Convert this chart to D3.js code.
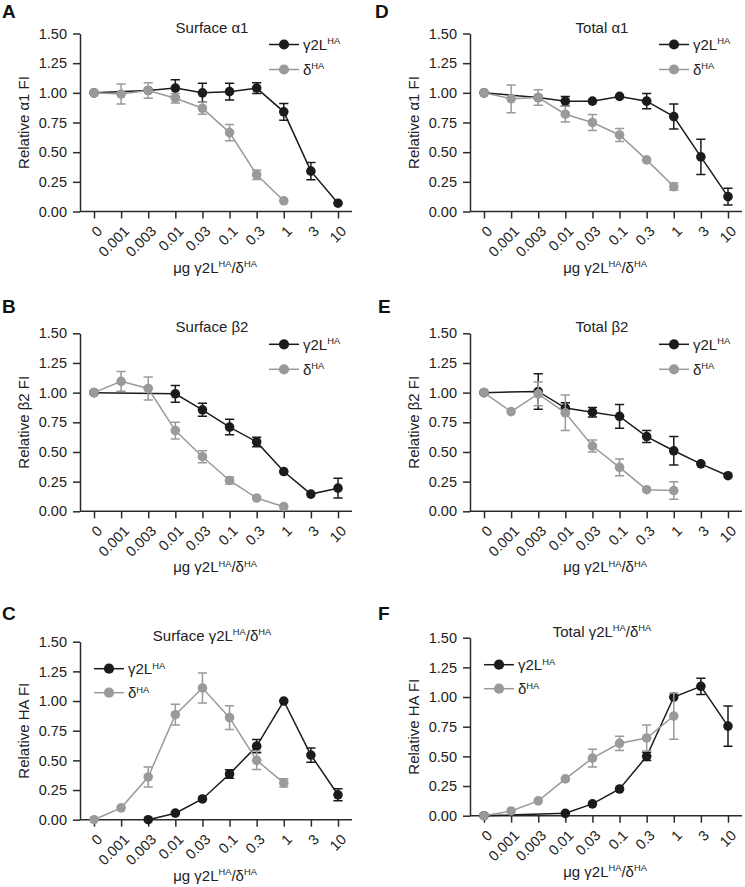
<!DOCTYPE html>
<html>
<head>
<meta charset="utf-8">
<script src="https://cdn.jsdelivr.net/npm/d3@7"></script>
<style>
  html, body { margin: 0; padding: 0; background: #fff; }
  svg { display: block; font-family: "Liberation Sans", Arial, sans-serif; }
</style>
</head>
<body>
<svg id="chart" width="745" height="887"></svg>
<script>
// ---------- data ----------
const categories = ["0", "0.001", "0.003", "0.01", "0.03", "0.1", "0.3", "1", "3", "10"];
const yTicks = [0, 0.25, 0.5, 0.75, 1.0, 1.25, 1.5];
const seriesNames = ["γ2L", "δ"];

// Panel A – Surface α1
const aGamma    = [1.00, null, 1.02, 1.04, 1.00, 1.01, 1.04, 0.84, 0.34, 0.07];
const aGammaErr = [0, null, 0, 0.07, 0.08, 0.07, 0.045, 0.07, 0.073, 0];
const aDelta    = [1.00, 0.99, 1.02, 0.955, 0.87, 0.665, 0.31, 0.09, null, null];
const aDeltaErr = [0, 0.085, 0.065, 0.04, 0.05, 0.068, 0.04, 0, null, null];

// Panel B – Surface β2
const bGamma    = [1.00, null, null, 0.99, 0.855, 0.71, 0.585, 0.335, 0.145, 0.195];
const bGammaErr = [0, null, null, 0.07, 0.055, 0.065, 0.04, 0, 0, 0.083];
const bDelta    = [1.00, 1.095, 1.035, 0.68, 0.46, 0.26, 0.112, 0.039, null, null];
const bDeltaErr = [0, 0.084, 0.097, 0.07, 0.05, 0.03, 0, 0, null, null];

// Panel C – Surface γ2L/δ
const cGamma    = [null, null, 0.00, 0.055, 0.175, 0.385, 0.62, 1.00, 0.545, 0.21];
const cGammaErr = [null, null, 0, 0, 0, 0.035, 0.056, 0, 0.06, 0.05];
const cDelta    = [0.00, 0.10, 0.36, 0.885, 1.11, 0.86, 0.50, 0.31, null, null];
const cDeltaErr = [0, 0, 0.085, 0.087, 0.126, 0.10, 0.078, 0.035, null, null];

// Panel D – Total α1
const dGamma    = [1.00, null, 0.96, 0.93, 0.93, 0.97, 0.93, 0.80, 0.46, 0.125];
const dGammaErr = [0, null, 0, 0.04, 0, 0, 0.065, 0.105, 0.148, 0.07];
const dDelta    = [1.00, 0.95, 0.96, 0.82, 0.75, 0.645, 0.435, 0.21, null, null];
const dDeltaErr = [0, 0.117, 0.065, 0.066, 0.068, 0.055, 0, 0.03, null, null];

// Panel E – Total β2
const eGamma    = [1.00, null, 1.01, 0.87, 0.835, 0.80, 0.63, 0.51, 0.40, 0.30];
const eGammaErr = [0, null, 0.15, 0.045, 0.04, 0.10, 0.05, 0.12, 0, 0];
const eDelta    = [1.00, 0.84, 0.99, 0.83, 0.55, 0.37, 0.182, 0.175, null, null];
const eDeltaErr = [0, 0, 0.10, 0.15, 0.05, 0.07, 0, 0.073, null, null];

// Panel F – Total γ2L/δ
const fGamma    = [0.00, null, null, 0.02, 0.10, 0.225, 0.50, 1.00, 1.09, 0.755];
const fGammaErr = [0, null, null, 0, 0, 0, 0.035, 0, 0.068, 0.17];
const fDelta    = [0.00, 0.04, 0.125, 0.31, 0.485, 0.61, 0.655, 0.84, null, null];
const fDeltaErr = [0, 0, 0, 0, 0.075, 0.06, 0.11, 0.195, null, null];

// ---------- layout ----------
const panels = [
  {label: "A", title: [["Surface α1", false]], yTitle: "Relative α1 FI", left: 80, top: 33.5, labelX: 2, labelY: 18,
   gamma: aGamma, gammaErr: aGammaErr, delta: aDelta, deltaErr: aDeltaErr, legend: "right"},
  {label: "B", title: [["Surface β2", false]], yTitle: "Relative β2 FI", left: 80, top: 333.3, labelX: 2, labelY: 313,
   gamma: bGamma, gammaErr: bGammaErr, delta: bDelta, deltaErr: bDeltaErr, legend: "right"},
  {label: "C", title: [["Surface γ2L", false], ["HA", true], ["/δ", false], ["HA", true]], yTitle: "Relative HA FI", left: 80, top: 641.7, labelX: 2, labelY: 620,
   gamma: cGamma, gammaErr: cGammaErr, delta: cDelta, deltaErr: cDeltaErr, legend: "left"},
  {label: "D", title: [["Total α1", false]], yTitle: "Relative α1 FI", left: 470, top: 33.5, labelX: 375, labelY: 18,
   gamma: dGamma, gammaErr: dGammaErr, delta: dDelta, deltaErr: dDeltaErr, legend: "right"},
  {label: "E", title: [["Total β2", false]], yTitle: "Relative β2 FI", left: 470, top: 333.3, labelX: 378, labelY: 313,
   gamma: eGamma, gammaErr: eGammaErr, delta: eDelta, deltaErr: eDeltaErr, legend: "right"},
  {label: "F", title: [["Total γ2L", false], ["HA", true], ["/δ", false], ["HA", true]], yTitle: "Relative HA FI", left: 470, top: 637.7, labelX: 378, labelY: 620,
   gamma: fGamma, gammaErr: fGammaErr, delta: fDelta, deltaErr: fDeltaErr, legend: "left"}
];

const H = 178, W = 272;
const BLACK = "#1b1b1b", GRAY = "#9a9a9a", AXIS = "#2b2b2b", TEXT = "#222";
const R = 4.8, CAP = 4.6;
const FS = 15, TICK_FS = 14.5;

const svg = d3.select("#chart");

function richText(sel, parts, size) {
  parts.forEach(([t, sup], i) => {
    const prevSup = i > 0 && parts[i - 1][1];
    const ts = sel.append("tspan").text(t);
    if (sup) ts.attr("font-size", size * 0.62).attr("dy", -size * 0.38);
    else if (prevSup) ts.attr("dy", size * 0.38);
  });
}

panels.forEach(p => {
  const g = svg.append("g");
  const x = d3.scalePoint().domain(categories).range([p.left + 14, p.left + W - 14]).padding(0);
  const y = d3.scaleLinear().domain([0, 1.5]).range([p.top + H, p.top]);
  const bottom = p.top + H;

  // panel label
  g.append("text").attr("x", p.labelX).attr("y", p.labelY)
    .attr("font-size", 19).attr("font-weight", "bold").attr("fill", "#111").text(p.label);

  // title
  const t = g.append("text").attr("x", p.left + W / 2 - 4).attr("y", p.top - 1)
    .attr("text-anchor", "middle").attr("font-size", FS).attr("fill", TEXT);
  richText(t, p.title, FS);

  // y axis
  const ya = g.append("g").attr("transform", `translate(${p.left},0)`)
    .call(d3.axisLeft(y).tickValues(yTicks).tickFormat(d3.format(".2f")).tickSize(7).tickSizeOuter(0).tickPadding(6));
  ya.select(".domain").attr("stroke", AXIS).attr("stroke-width", 1.5);
  ya.selectAll(".tick line").attr("stroke", AXIS).attr("stroke-width", 1.5);
  ya.selectAll(".tick text").attr("font-size", TICK_FS).attr("fill", TEXT).attr("font-family", "Liberation Sans, Arial, sans-serif");

  // x axis
  const xa = g.append("g").attr("transform", `translate(0,${bottom})`)
    .call(d3.axisBottom(x).tickSize(7).tickSizeOuter(0));
  xa.select(".domain").remove();
  xa.selectAll(".tick line").attr("stroke", AXIS).attr("stroke-width", 1.5);
  xa.selectAll(".tick text")
    .attr("font-size", TICK_FS).attr("fill", TEXT).attr("font-family", "Liberation Sans, Arial, sans-serif")
    .attr("text-anchor", "end").attr("y", 0).attr("dy", "0.35em")
    .attr("transform", "translate(5,17) rotate(-45)");
  g.append("line").attr("x1", p.left).attr("x2", p.left + W).attr("y1", bottom).attr("y2", bottom)
    .attr("stroke", AXIS).attr("stroke-width", 1.5);

  // axis titles
  g.append("text").attr("transform", `translate(${p.left - 51},${p.top + H / 2}) rotate(-90)`)
    .attr("text-anchor", "middle").attr("font-size", FS).attr("fill", TEXT).text(p.yTitle);
  const xt = g.append("text").attr("x", p.left + W / 2 - 1).attr("y", bottom + 61)
    .attr("text-anchor", "middle").attr("font-size", FS).attr("fill", TEXT);
  richText(xt, [["μg γ2L", false], ["HA", true], ["/δ", false], ["HA", true]], FS);

  // series
  const series = [
    {vals: p.gamma, errs: p.gammaErr, color: BLACK},
    {vals: p.delta, errs: p.deltaErr, color: GRAY}
  ];
  series.forEach(s => {
    const pts = categories.map((c, i) => ({c, v: s.vals[i], e: s.errs[i]})).filter(d => d.v !== null);
    const sg = g.append("g");
    sg.append("path").datum(pts)
      .attr("d", d3.line().x(d => x(d.c)).y(d => y(d.v)))
      .attr("fill", "none").attr("stroke", s.color).attr("stroke-width", 1.5);
    const eb = pts.filter(d => d.e > 0);
    sg.selectAll(".eb").data(eb).join("path")
      .attr("d", d => {
        const cx = x(d.c), y1 = y(d.v + d.e), y2 = y(d.v - d.e);
        return `M${cx},${y1}V${y2}M${cx - CAP},${y1}H${cx + CAP}M${cx - CAP},${y2}H${cx + CAP}`;
      })
      .attr("fill", "none").attr("stroke", s.color).attr("stroke-width", 1.5);
    sg.selectAll("circle").data(pts).join("circle")
      .attr("cx", d => x(d.c)).attr("cy", d => y(d.v)).attr("r", R).attr("fill", s.color);
  });

  // legend
  const lx = p.legend === "right" ? p.left + 204 : p.left + 29;
  const ly = p.legend === "right" ? [p.top + 11, p.top + 36] : [p.top + 27, p.top + 51];
  [[BLACK, "γ2L"], [GRAY, "δ"]].forEach(([col, name], i) => {
    const lg = g.append("g");
    lg.append("line").attr("x1", lx - 15).attr("x2", lx + 15).attr("y1", ly[i]).attr("y2", ly[i])
      .attr("stroke", col).attr("stroke-width", 1.5);
    lg.append("circle").attr("cx", lx).attr("cy", ly[i]).attr("r", R + 0.3).attr("fill", col);
    const tx = lg.append("text").attr("x", lx + 19).attr("y", ly[i] + 5.5).attr("font-size", FS).attr("fill", TEXT);
    richText(tx, [[name, false], ["HA", true]], FS);
  });
});
</script>
</body>
</html>
